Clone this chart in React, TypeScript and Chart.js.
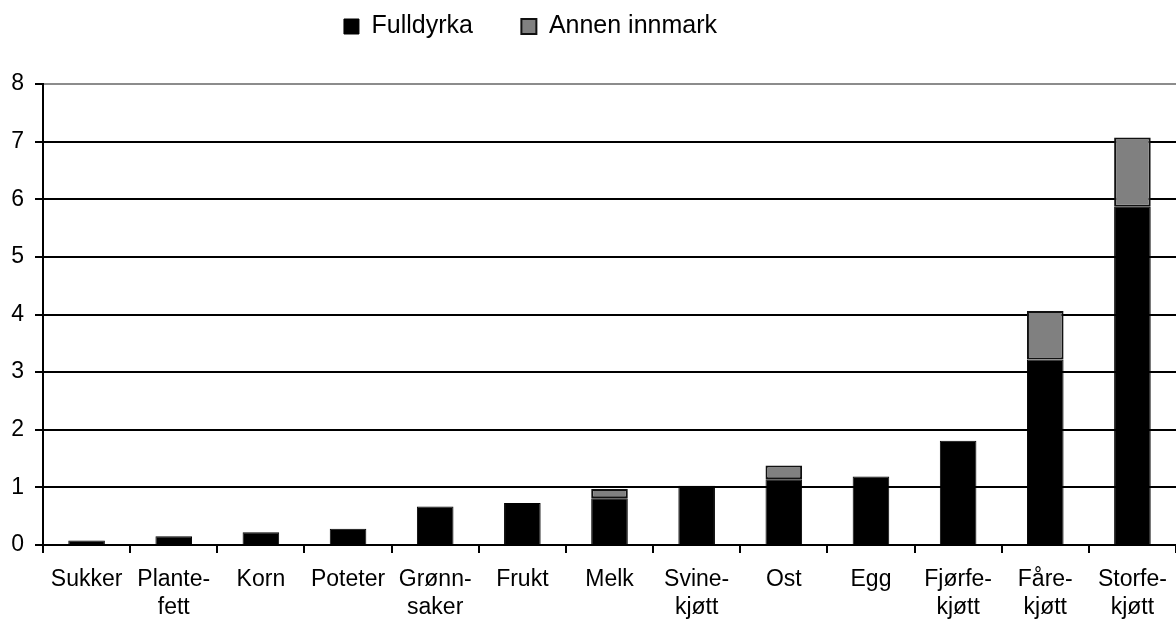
import React, { useEffect, useRef } from "react";
import { Chart, registerables } from "chart.js";

Chart.register(...registerables);

const categories: (string | string[])[] = [
  "Sukker",
  ["Plante-", "fett"],
  "Korn",
  "Poteter",
  ["Grønn-", "saker"],
  "Frukt",
  "Melk",
  ["Svine-", "kjøtt"],
  "Ost",
  "Egg",
  ["Fjørfe-", "kjøtt"],
  ["Fåre-", "kjøtt"],
  ["Storfe-", "kjøtt"],
];

const fulldyrka: number[] = [0.08, 0.15, 0.22, 0.28, 0.67, 0.73, 0.81, 1.03, 1.14, 1.19, 1.81, 3.22, 5.87];
const annenInnmark: (number | null)[] = [null, null, null, null, null, null, 0.16, null, 0.24, null, null, 0.84, 1.2];

const yTickValues: number[] = [0, 1, 2, 3, 4, 5, 6, 7, 8];

const FONT = "'Liberation Sans', Arial, sans-serif";

const LEGEND_PAD = 48.5;

const legendLayoutPlugin = {
  id: "legendLayout",
  beforeLayout(chart: any) {
    const legend = chart.legend;
    if (legend && !legend.__patched) {
      const origFit = legend.fit.bind(legend);
      legend.fit = function () {
        origFit();
        this.height = 84;
      };
      legend.__patched = true;
    }
  },
  afterLayout(chart: any) {
    const legend = chart.legend;
    if (!legend) return;
    const dx = -60;
    legend.left += dx;
    legend.right += dx;
    legend.top = 14 - LEGEND_PAD;
  },
};

export default function App() {
  const ref = useRef<HTMLCanvasElement | null>(null);

  useEffect(() => {
    if (!ref.current) return;
    const chart = new Chart(ref.current, {
      type: "bar",
      data: {
        labels: categories,
        datasets: [
          {
            label: "Fulldyrka",
            data: fulldyrka,
            backgroundColor: "#000000",
            borderColor: "#000000",
            borderWidth: 1,
            barPercentage: 0.42,
            categoryPercentage: 1,
          },
          {
            label: "Annen innmark",
            data: annenInnmark,
            backgroundColor: "#808080",
            borderColor: "#111111",
            borderWidth: 2,
            borderSkipped: false,
            barPercentage: 0.42,
            categoryPercentage: 1,
          },
        ],
      },
      options: {
        responsive: false,
        animation: false,
        layout: { padding: { left: 0, right: -5, top: 0, bottom: 0 } },
        plugins: {
          legend: {
            display: true,
            position: "top",
            align: "center",
            labels: {
              boxWidth: 15,
              boxHeight: 15,
              padding: LEGEND_PAD,
              color: "#000000",
              font: { family: FONT, size: 25 },
            },
          },
          tooltip: { enabled: false },
        },
        scales: {
          x: {
            stacked: true,
            offset: true,
            afterFit(scale: any) {
              scale.height = 74;
              scale.paddingLeft = 0;
              scale.paddingRight = -5;
            },
            grid: {
              offset: true,
              drawOnChartArea: false,
              drawTicks: true,
              tickLength: 8,
              color: "#000000",
              lineWidth: 2,
            },
            border: { display: true, color: "#000000", width: 2 },
            ticks: {
              color: "#000000",
              font: { family: FONT, size: 23, lineHeight: 1.2 },
              padding: 13,
              maxRotation: 0,
              autoSkip: false,
            },
          },
          y: {
            stacked: true,
            min: 0,
            max: 8,
            afterFit(scale: any) {
              scale.width = 43;
            },
            afterBuildTicks(scale: any) {
              scale.ticks = yTickValues.map((v) => ({ value: v }));
            },
            grid: {
              color: (ctx: any) => (ctx.tick && ctx.tick.value === 8 ? "#8c8c8c" : "#000000"),
              tickColor: "#000000",
              lineWidth: 2,
              tickLength: 8,
              drawTicks: true,
            },
            border: { display: true, color: "#000000", width: 2 },
            ticks: {
              color: "#000000",
              font: { family: FONT, size: 23 },
              padding: 11,
              stepSize: 1,
            },
          },
        },
      },
      plugins: [legendLayoutPlugin],
    } as any);
    return () => chart.destroy();
  }, []);

  return (
    <div style={{ position: "fixed", left: 0, top: 0, width: 1176, height: 619, background: "#ffffff" }}>
      <canvas ref={ref} width={1176} height={619} style={{ display: "block" }} />
    </div>
  );
}
